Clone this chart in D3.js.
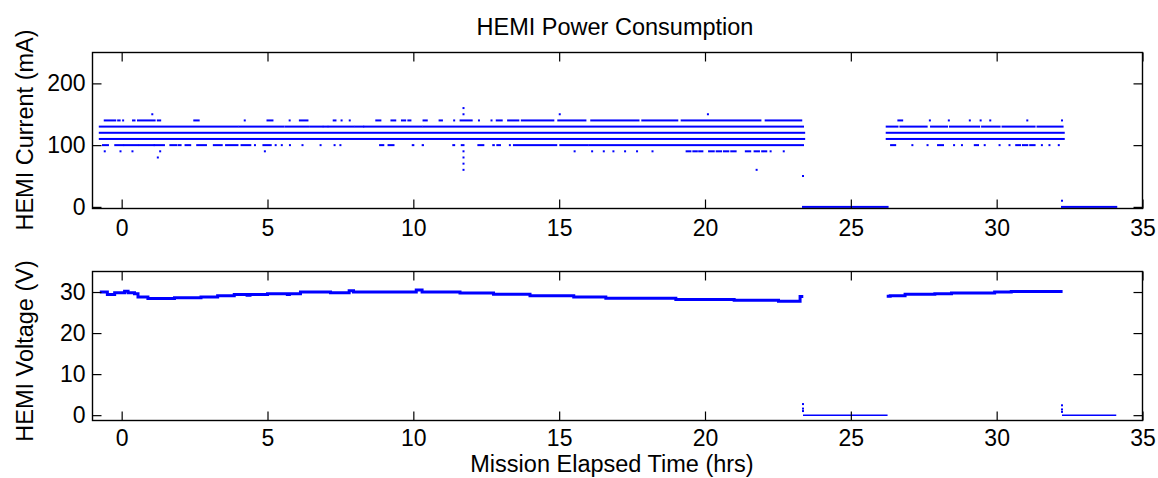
<!DOCTYPE html>
<html>
<head>
<meta charset="utf-8">
<script src="https://cdn.jsdelivr.net/npm/d3@7"></script>
<style>
  body { margin: 0; background: #fff; }
  text { font-family: "Liberation Sans", Arial, sans-serif; fill: #000; }
</style>
</head>
<body>
<svg id="chart" width="1158" height="478"></svg>
<script>
// tick values
const xTicks = [0, 5, 10, 15, 20, 25, 30, 35];
const currentTicks = [0, 100, 200];
const voltageTicks = [0, 10, 20, 30];

// HEMI current: runs of samples [from, to] (hrs) at each quantised level (mA)
const cur160 = [[11.72, 11.72]];
const cur150 = [[1.05, 1.05], [11.72, 11.72], [15.02, 15.02], [20.1, 20.1]];
const cur140 = [[-0.58, -0.22], [-0.12, -0.07], [0.05, 0.05], [0.39, 0.44], [0.56, 1.13], [1.24, 1.32],
  [2.49, 2.64], [4.22, 4.22], [5.0, 5.17], [5.76, 5.76], [6.11, 6.37], [7.27, 7.33], [7.54, 7.54],
  [7.82, 7.82], [8.73, 8.87], [9.25, 9.38], [9.61, 9.72], [9.83, 9.9], [10.35, 10.46], [10.9, 10.98],
  [11.4, 11.4], [11.62, 12.0], [12.25, 12.25], [12.68, 12.68], [12.86, 13.03], [13.25, 13.6],
  [13.72, 14.8], [14.97, 15.9], [16.1, 17.72], [17.85, 19.05], [19.2, 21.9], [22.08, 23.3],
  [26.63, 26.76], [27.71, 27.71], [28.36, 28.36], [29.08, 29.08], [29.45, 29.45], [29.78, 29.78],
  [31.05, 31.05], [32.24, 32.24]];
const cur130 = [[-0.75, 3.97], [4.03, 5.55], [5.62, 6.39], [6.46, 6.88], [6.93, 7.05], [7.1, 7.96],
  [8.02, 8.28], [8.32, 10.29], [10.35, 23.36], [26.23, 26.6], [26.7, 27.6], [27.75, 28.3],
  [28.4, 29.4], [29.5, 30.1], [30.2, 31.3], [31.4, 32.26]];
const cur120 = [[-0.75, 23.4], [26.23, 32.3]];
const cur110 = [[-0.75, 23.4], [26.23, 32.3]];
const cur100 = [[-0.64, -0.47], [-0.22, 0.05], [0.1, 0.56], [0.62, 1.1], [1.13, 1.45], [1.67, 1.87],
  [1.95, 2.02], [2.19, 2.35], [2.59, 2.89], [3.16, 3.43], [3.58, 3.97], [4.11, 4.41], [4.57, 4.57],
  [4.86, 5.11], [5.28, 5.28], [5.49, 5.49], [5.77, 5.77], [6.2, 6.2], [6.82, 6.82], [7.3, 7.3],
  [7.5, 7.5], [8.86, 8.97], [9.15, 9.32], [9.98, 10.0], [10.32, 10.33], [11.37, 11.4], [11.66, 11.72],
  [12.23, 12.4], [12.74, 12.76], [12.88, 12.97], [13.31, 13.31], [13.45, 14.9], [15.04, 15.98],
  [16.04, 23.36], [26.38, 26.52], [27.11, 27.11], [27.63, 27.63], [27.99, 28.16], [28.54, 28.54],
  [28.81, 28.81], [29.25, 29.36], [29.59, 29.59], [30.1, 30.1], [30.44, 30.44], [30.67, 30.8],
  [30.9, 31.05], [31.15, 31.3], [31.55, 31.55], [31.81, 31.81], [32.13, 32.13]];
const cur90 = [[-0.58, -0.58], [-0.04, -0.04], [0.37, 0.37], [1.32, 1.32], [4.91, 4.91], [11.72, 11.72],
  [15.53, 15.53], [16.13, 16.13], [16.53, 16.53], [16.86, 16.86], [17.26, 17.26], [17.67, 17.67],
  [18.2, 18.2], [19.37, 19.5], [19.6, 19.72], [19.8, 19.91], [20.14, 20.3], [20.4, 20.55],
  [20.65, 20.8], [20.9, 21.05], [21.4, 21.55], [21.7, 21.85], [21.96, 21.96], [22.02, 22.1],
  [22.25, 22.25], [22.7, 22.7]];
const cur80 = [[1.24, 1.24], [11.72, 11.72]];
const cur70 = [[11.72, 11.72]];
const cur60 = [[11.72, 11.72], [21.77, 21.77]];
const cur50 = [[23.36, 23.36]];
const cur10 = [[32.24, 32.24]];
const cur0 = [[23.36, 26.26], [32.24, 34.1]];

// HEMI voltage: [hrs, V] step samples, powered segments and off segments
const voltOn1 = [[-0.75, 30.0], [-0.49, 29.4], [-0.24, 29.8], [0.1, 30.2], [0.22, 29.8], [0.44, 29.6],
  [0.56, 28.8], [0.9, 28.4], [1.81, 28.6], [2.72, 28.8], [3.29, 29.1], [3.86, 29.4], [4.3, 29.2],
  [4.4, 29.4], [5.0, 29.6], [5.68, 29.4], [5.75, 29.6], [6.13, 30.0], [7.16, 29.8], [7.8, 30.3],
  [7.95, 30.0], [10.1, 30.5], [10.3, 30.0], [11.6, 29.75], [12.75, 29.45], [14.0, 29.1],
  [15.5, 28.8], [16.6, 28.5], [19.0, 28.2], [21.0, 28.0], [22.52, 27.75], [23.26, 28.9], [23.37, 28.9]];
const voltOff1 = [[23.36, 0], [26.26, 0]];
const voltOn2 = [[26.23, 29.0], [26.35, 29.1], [26.86, 29.45], [27.88, 29.6], [28.45, 29.75],
  [29.93, 30.0], [30.5, 30.15], [32.26, 30.15]];
const voltOff2 = [[32.24, 0], [34.1, 0]];
const voltDrops = [[23.36, 2.7], [23.36, 1.6], [23.36, 1.0], [32.24, 2.4], [32.24, 1.4], [32.24, 0.8]];

const blue = '#0000ff';
const fontSize = 23.5;
let svg = d3.select('#chart');
svg.append('rect').attr('width', 1158).attr('height', 478).attr('fill', '#fff');

let x = d3.scaleLinear().domain([-1, 35]).range([92.5, 1142.5]);
let yCur = d3.scaleLinear().domain([-2.6, 250]).range([208.5, 52.5]);
let yVolt = d3.scaleLinear().domain([-1.3, 35]).range([420.5, 271.5]);

// draws a MATLAB-style boxed axes with inward ticks on all four sides
function boxAxes(y, yTicks, top, bottom, xPad) {
  let g = svg.append('g');
  let tl = 9;
  g.append('g').attr('transform', `translate(0,${bottom})`)
    .call(d3.axisBottom(x).tickValues(xTicks).tickSizeInner(-tl).tickSizeOuter(0).tickPadding(xPad))
    .call(a => a.select('.domain').remove());
  g.append('g').attr('transform', `translate(0,${top})`)
    .call(d3.axisTop(x).tickValues(xTicks).tickSizeInner(-tl).tickSizeOuter(0).tickFormat(''))
    .call(a => a.select('.domain').remove());
  g.append('g').attr('transform', `translate(${x.range()[0]},0)`)
    .call(d3.axisLeft(y).tickValues(yTicks).tickSizeInner(-tl).tickSizeOuter(0).tickPadding(7))
    .call(a => a.select('.domain').remove());
  g.append('g').attr('transform', `translate(${x.range()[1]},0)`)
    .call(d3.axisRight(y).tickValues(yTicks).tickSizeInner(-tl).tickSizeOuter(0).tickFormat(''))
    .call(a => a.select('.domain').remove());
  g.selectAll('.tick line').attr('stroke', '#000').attr('stroke-width', 1.2);
  g.selectAll('.tick text').attr('font-size', 23).attr('font-family', '"Liberation Sans", Arial, sans-serif');
  g.append('rect').attr('x', x.range()[0]).attr('y', top)
    .attr('width', x.range()[1] - x.range()[0]).attr('height', bottom - top)
    .attr('fill', 'none').attr('stroke', '#000').attr('stroke-width', 1.4);
  return g;
}

// current panel
let curLevels = [
  {level: 160, runs: cur160}, {level: 150, runs: cur150}, {level: 140, runs: cur140},
  {level: 130, runs: cur130}, {level: 120, runs: cur120}, {level: 110, runs: cur110},
  {level: 100, runs: cur100}, {level: 90, runs: cur90}, {level: 80, runs: cur80},
  {level: 70, runs: cur70}, {level: 60, runs: cur60}, {level: 50, runs: cur50},
  {level: 10, runs: cur10}, {level: 0, runs: cur0}
];
let curRuns = curLevels.flatMap(d => d.runs.map(r => ({level: d.level, from: r[0], to: r[1]})));
svg.append('g').selectAll('rect').data(curRuns).join('rect')
  .attr('x', d => x(d.from) - 1)
  .attr('y', d => yCur(d.level) - 1)
  .attr('width', d => Math.max(2, x(d.to) - x(d.from) + 2))
  .attr('height', 2)
  .attr('fill', blue);
boxAxes(yCur, currentTicks, 52.5, 208.5, 11);

// voltage panel
let vLine = d3.line().x(d => x(d[0])).y(d => yVolt(d[1])).curve(d3.curveStepAfter);
let vg = svg.append('g');
[voltOn1, voltOn2].forEach(seg => {
  vg.append('path').attr('d', vLine(seg)).attr('fill', 'none').attr('stroke', blue).attr('stroke-width', 3);
});
[voltOff1, voltOff2].forEach(seg => {
  vg.append('path').attr('d', vLine(seg)).attr('fill', 'none').attr('stroke', blue).attr('stroke-width', 1.5);
});
vg.selectAll('rect.drop').data(voltDrops).join('rect').attr('class', 'drop')
  .attr('x', d => x(d[0]) - 1).attr('y', d => yVolt(d[1]) - 1)
  .attr('width', 2).attr('height', 2).attr('fill', blue);
boxAxes(yVolt, voltageTicks, 271.5, 420.5, 9);

// titles and labels
svg.append('text').attr('x', 615).attr('y', 35).attr('text-anchor', 'middle')
  .attr('font-size', fontSize).text('HEMI Power Consumption');
svg.append('text').attr('x', 612).attr('y', 472).attr('text-anchor', 'middle')
  .attr('font-size', fontSize).text('Mission Elapsed Time (hrs)');
svg.append('text').attr('transform', 'translate(33,130) rotate(-90)').attr('text-anchor', 'middle')
  .attr('font-size', fontSize).text('HEMI Current (mA)');
svg.append('text').attr('transform', 'translate(33,351) rotate(-90)').attr('text-anchor', 'middle')
  .attr('font-size', fontSize).text('HEMI Voltage (V)');
</script>
</body>
</html>
